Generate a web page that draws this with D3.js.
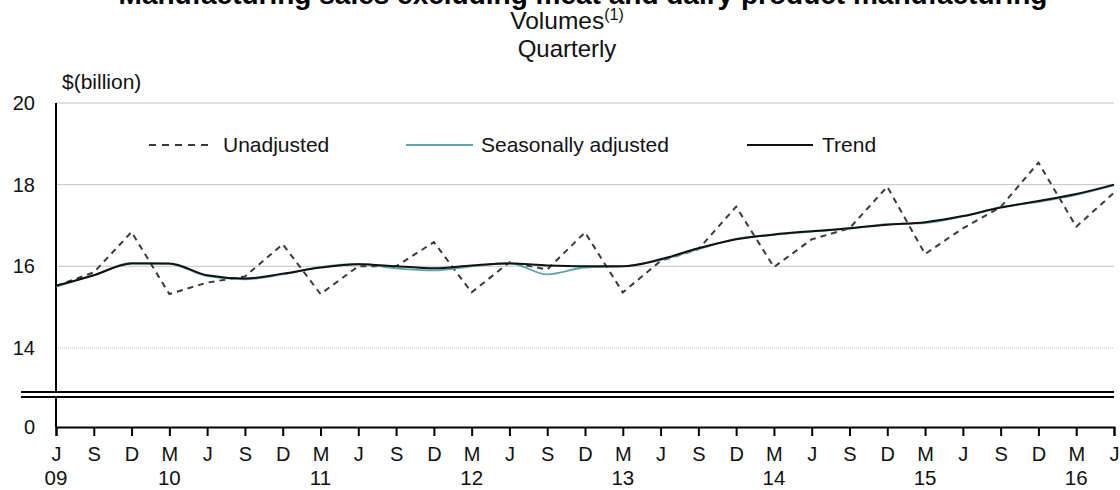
<!DOCTYPE html>
<html>
<head>
<meta charset="utf-8">
<script src="https://cdn.jsdelivr.net/npm/d3@7"></script>
<style>
  html, body { margin: 0; padding: 0; background: #fff; }
  svg { display: block; font-family: "Liberation Sans", Arial, sans-serif; }
</style>
</head>
<body>
<svg id="chart" width="1120" height="490"></svg>
<script>
// ---- data ----
const quarterLabels = ["J","S","D","M","J","S","D","M","J","S","D","M","J","S","D","M","J","S","D","M","J","S","D","M","J","S","D","M","J"];
const yearLabels = ["09","10","11","12","13","14","15","16"];
const yearIndex = [0, 3, 7, 11, 15, 19, 23, 27];
const yTicks = [0, 14, 16, 18, 20];

const unadjusted = [15.52, 15.85, 16.84, 15.32, 15.6, 15.75, 16.54, 15.32, 16.0, 16.0, 16.59, 15.36, 16.1, 15.92, 16.83, 15.36, 16.13, 16.42, 17.46, 15.98, 16.66, 16.93, 17.95, 16.3, 16.93, 17.45, 18.54, 16.97, 17.8];
const seasonallyAdjusted = [15.5, 15.78, 16.08, 16.06, 15.76, 15.68, 15.8, 15.98, 16.06, 15.95, 15.9, 16.0, 16.08, 15.8, 15.97, 16.0, 16.15, 16.42, 16.67, 16.77, 16.85, 16.92, 17.03, 17.06, 17.22, 17.45, 17.58, 17.75, 17.98];
const trend = [15.52, 15.78, 16.07, 16.07, 15.78, 15.7, 15.82, 15.97, 16.05, 16.0, 15.95, 16.02, 16.07, 16.02, 16.0, 16.0, 16.17, 16.44, 16.66, 16.78, 16.86, 16.93, 17.02, 17.08, 17.23, 17.44, 17.6, 17.77, 18.0];

// ---- layout ----
const svg = d3.select("#chart");
const left = 56, right = 1114;
const breakTop = 392, breakBottom = 397, zeroY = 427;

const x = d3.scaleLinear().domain([0, quarterLabels.length - 1]).range([left, right]);
const y = d3.scaleLinear().domain([0, 12.92, 20]).range([zeroY, breakTop, 103]);

// titles
svg.append("text").attr("x", 583).attr("y", 4).attr("text-anchor", "middle")
  .attr("font-size", 28).attr("font-weight", "bold").attr("fill", "#000")
  .text("Manufacturing sales excluding meat and dairy product manufacturing");
const t2 = svg.append("text").attr("x", 567).attr("y", 29).attr("text-anchor", "middle")
  .attr("font-size", 24.5).attr("fill", "#111");
t2.append("tspan").text("Volumes");
t2.append("tspan").attr("font-size", 16).attr("dy", -9).text("(1)");
svg.append("text").attr("x", 567).attr("y", 57).attr("text-anchor", "middle")
  .attr("font-size", 24).attr("fill", "#111").text("Quarterly");

svg.append("text").attr("x", 62).attr("y", 89).attr("font-size", 21).attr("fill", "#111").text("$(billion)");

// gridlines
const grid = svg.append("g");
[16, 18, 20].forEach(v => {
  grid.append("line").attr("x1", left).attr("x2", right).attr("y1", y(v)).attr("y2", y(v))
    .attr("stroke", "#c4c4c4").attr("stroke-width", 1);
});
grid.append("line").attr("x1", left).attr("x2", right).attr("y1", y(14)).attr("y2", y(14))
  .attr("stroke", "#bdbdbd").attr("stroke-width", 1).attr("stroke-dasharray", "1,1");

// y axis (no domain path; segments drawn around the break)
const yAxis = svg.append("g").attr("transform", `translate(${left},0)`)
  .call(d3.axisLeft(y).tickValues(yTicks).tickSize(0).tickPadding(21).tickFormat(d3.format("d")));
yAxis.select(".domain").remove();
yAxis.selectAll("text").attr("font-size", 20).attr("fill", "#111").attr("font-family", "Liberation Sans, Arial, sans-serif");

svg.append("line").attr("x1", left).attr("x2", left).attr("y1", y(20)).attr("y2", breakTop)
  .attr("stroke", "#000").attr("stroke-width", 2);
svg.append("line").attr("x1", left).attr("x2", left).attr("y1", breakBottom).attr("y2", zeroY)
  .attr("stroke", "#000").attr("stroke-width", 2);

// break lines
[breakTop, breakBottom].forEach(yy => {
  svg.append("line").attr("x1", 21).attr("x2", right).attr("y1", yy).attr("y2", yy)
    .attr("stroke", "#000").attr("stroke-width", 2);
});

// x axis at zero
const xAxis = svg.append("g").attr("transform", `translate(0,${zeroY})`)
  .call(d3.axisBottom(x).tickValues(d3.range(quarterLabels.length)).tickSize(9).tickPadding(11)
    .tickFormat(i => quarterLabels[i]));
xAxis.select(".domain").attr("stroke", "#000").attr("stroke-width", 2);
xAxis.selectAll(".tick line").attr("stroke", "#000").attr("stroke-width", 2);
xAxis.selectAll(".tick text").attr("font-size", 20).attr("fill", "#111").attr("font-family", "Liberation Sans, Arial, sans-serif");

svg.append("g").selectAll("text").data(yearIndex).join("text")
  .attr("x", i => x(i)).attr("y", 485).attr("text-anchor", "middle")
  .attr("font-size", 20.5).attr("fill", "#111")
  .text((d, k) => yearLabels[k]);

// lines
const straight = d3.line().x((d, i) => x(i)).y(d => y(d));
const smooth = d3.line().x((d, i) => x(i)).y(d => y(d)).curve(d3.curveMonotoneX);

svg.append("path").datum(unadjusted).attr("d", straight).attr("fill", "none")
  .attr("stroke", "#3a3a3a").attr("stroke-width", 2).attr("stroke-dasharray", "6,5");
svg.append("path").datum(seasonallyAdjusted).attr("d", smooth).attr("fill", "none")
  .attr("stroke", "#5aa6aa").attr("stroke-width", 1.8);
svg.append("path").datum(trend).attr("d", smooth).attr("fill", "none")
  .attr("stroke", "#111").attr("stroke-width", 2);

// legend
const legY = 145;
const legend = [
  {name: "Unadjusted", x1: 149, x2: 213, tx: 223, color: "#3a3a3a", dash: "7,6", w: 2},
  {name: "Seasonally adjusted", x1: 406, x2: 473, tx: 481, color: "#5aa6aa", dash: null, w: 1.8},
  {name: "Trend", x1: 747, x2: 813, tx: 822, color: "#111", dash: null, w: 2}
];
legend.forEach(l => {
  svg.append("line").attr("x1", l.x1).attr("x2", l.x2).attr("y1", legY).attr("y2", legY)
    .attr("stroke", l.color).attr("stroke-width", l.w).attr("stroke-dasharray", l.dash);
  svg.append("text").attr("x", l.tx).attr("y", legY + 7).attr("font-size", 21).attr("fill", "#111").text(l.name);
});
</script>
</body>
</html>
